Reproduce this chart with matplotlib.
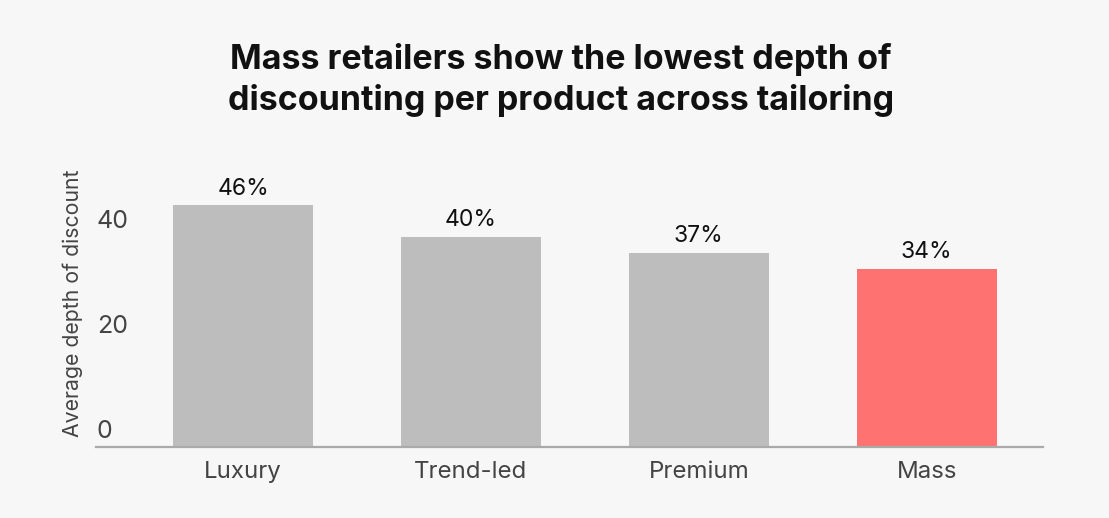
import matplotlib
matplotlib.use("Agg")
import matplotlib.pyplot as plt
from matplotlib.transforms import ScaledTranslation

categories = ["Luxury", "Trend-led", "Premium", "Mass"]
values = [46, 40, 37, 34]
bar_labels = ["46%", "40%", "37%", "34%"]
colors = ["#bdbdbd", "#bdbdbd", "#bdbdbd", "#ff7272"]
yticks = [0, 20, 40]

plt.rcParams['font.family'] = ['Inter', 'DejaVu Sans']

W, H = 1109, 518
fig = plt.figure(figsize=(W / 100, H / 100), dpi=100)
fig.patch.set_facecolor("#f7f7f7")

left, right, bottom_px, top_px = 96, 1043, 447, 184.5
ax = fig.add_axes([left / W, (H - bottom_px) / H, (right - left) / W, (bottom_px - top_px) / H])
ax.set_facecolor("#f7f7f7")

x = list(range(len(categories)))
bars = ax.bar(x, values, width=0.614, color=colors, zorder=2)
ax.bar_label(bars, labels=bar_labels, padding=4, fontsize=16.5, color="#111111")

ax.set_xlim(-0.645, 3.51)
ax.set_ylim(0, 50)
ax.set_xticks(x)
ax.set_xticklabels(categories, fontsize=17.3, color="#444444")
ax.tick_params(axis="x", length=0, pad=10)

ax.set_yticks(yticks)
ax.set_yticklabels([str(t) for t in yticks], fontsize=18, color="#444444")
ax.tick_params(axis="y", length=0, pad=-0.5)
off = ScaledTranslation(0, 3 / 72, fig.dpi_scale_trans)
for lab in ax.get_yticklabels():
    lab.set_horizontalalignment("left")
    lab.set_verticalalignment("bottom")
    lab.set_transform(lab.get_transform() + off)

for s in ["top", "right", "left"]:
    ax.spines[s].set_visible(False)
ax.spines["bottom"].set_color("#aaaaaa")
ax.spines["bottom"].set_linewidth(1.6)

ax.set_ylabel("Average depth of discount", fontsize=15.3, color="#444444")
ax.yaxis.set_label_coords(-13 / (right - left), 0.547)

fig.text(0.506, 1 - 80 / H, "Mass retailers show the lowest depth of\ndiscounting per product across tailoring",
         ha="center", va="center", fontsize=24.5, fontweight="bold", color="#111111",
         linespacing=1.32)

fig.savefig("out.png", dpi=100, facecolor=fig.get_facecolor())
